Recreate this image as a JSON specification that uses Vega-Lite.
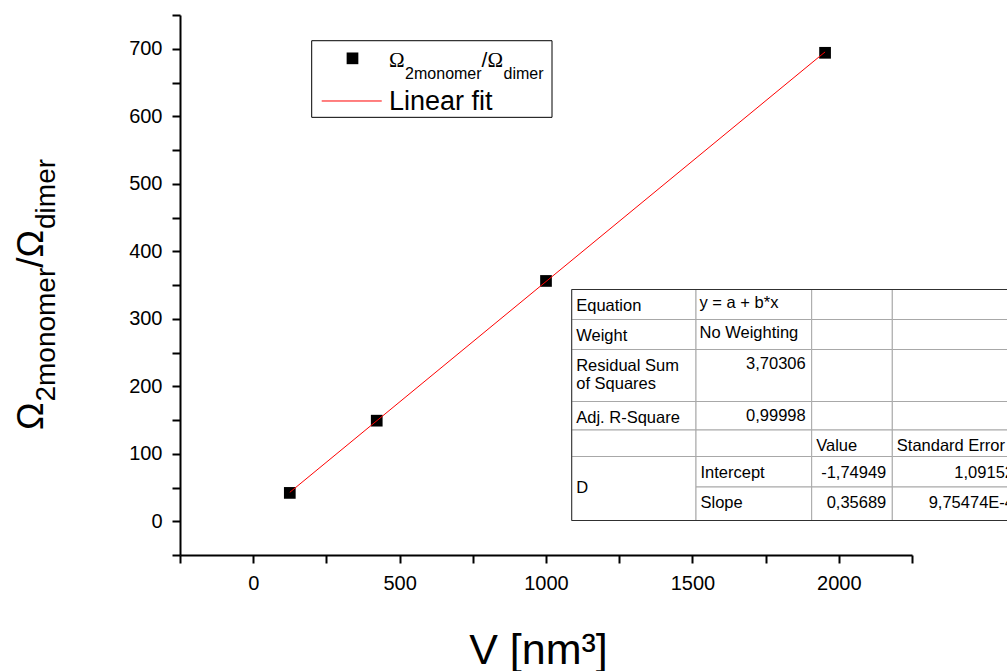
{
  "$schema": "https://vega.github.io/schema/vega-lite/v6.json",
  "width": 732,
  "height": 540,
  "autosize": {"type": "none"},
  "padding": {"left": 180, "top": 15, "right": 95, "bottom": 116},
  "background": "white",
  "config": {"view": {"stroke": null}, "font": "Liberation Sans"},
  "datasets": {
    "points": [
      {"V": 125, "ratio": 42},
      {"V": 421.9, "ratio": 149},
      {"V": 1000, "ratio": 356},
      {"V": 1953.1, "ratio": 694}
    ],
    "fit": [
      {"V": 125, "ratio": 42.86},
      {"V": 1953.1, "ratio": 695.3}
    ],
    "table": [
      {"r0": 0, "r1": 1, "c0": 0, "c1": 1, "text": "Equation", "kind": "label"},
      {"r0": 0, "r1": 1, "c0": 1, "c1": 2, "text": "y = a + b*x", "kind": "label"},
      {"r0": 0, "r1": 1, "c0": 2, "c1": 3, "text": "", "kind": "label"},
      {"r0": 0, "r1": 1, "c0": 3, "c1": 4, "text": "", "kind": "label"},
      {"r0": 1, "r1": 2, "c0": 0, "c1": 1, "text": "Weight", "kind": "label"},
      {"r0": 1, "r1": 2, "c0": 1, "c1": 2, "text": "No Weighting", "kind": "label"},
      {"r0": 1, "r1": 2, "c0": 2, "c1": 3, "text": "", "kind": "label"},
      {"r0": 1, "r1": 2, "c0": 3, "c1": 4, "text": "", "kind": "label"},
      {"r0": 2, "r1": 3, "c0": 0, "c1": 1, "text": "Residual Sum\nof Squares", "kind": "label"},
      {"r0": 2, "r1": 3, "c0": 1, "c1": 2, "text": "3,70306", "kind": "number"},
      {"r0": 2, "r1": 3, "c0": 2, "c1": 3, "text": "", "kind": "label"},
      {"r0": 2, "r1": 3, "c0": 3, "c1": 4, "text": "", "kind": "label"},
      {"r0": 3, "r1": 4, "c0": 0, "c1": 1, "text": "Adj. R-Square", "kind": "label"},
      {"r0": 3, "r1": 4, "c0": 1, "c1": 2, "text": "0,99998", "kind": "number"},
      {"r0": 3, "r1": 4, "c0": 2, "c1": 3, "text": "", "kind": "label"},
      {"r0": 3, "r1": 4, "c0": 3, "c1": 4, "text": "", "kind": "label"},
      {"r0": 4, "r1": 5, "c0": 0, "c1": 1, "text": "", "kind": "label"},
      {"r0": 4, "r1": 5, "c0": 1, "c1": 2, "text": "", "kind": "label"},
      {"r0": 4, "r1": 5, "c0": 2, "c1": 3, "text": "Value", "kind": "label"},
      {"r0": 4, "r1": 5, "c0": 3, "c1": 4, "text": "Standard Error", "kind": "label"},
      {"r0": 5, "r1": 7, "c0": 0, "c1": 1, "text": "D", "kind": "label"},
      {"r0": 5, "r1": 6, "c0": 1, "c1": 2, "text": "Intercept", "kind": "label"},
      {"r0": 5, "r1": 6, "c0": 2, "c1": 3, "text": "-1,74949", "kind": "number"},
      {"r0": 5, "r1": 6, "c0": 3, "c1": 4, "text": "1,09152", "kind": "number"},
      {"r0": 6, "r1": 7, "c0": 1, "c1": 2, "text": "Slope", "kind": "label"},
      {"r0": 6, "r1": 7, "c0": 2, "c1": 3, "text": "0,35689", "kind": "number"},
      {"r0": 6, "r1": 7, "c0": 3, "c1": 4, "text": "9,75474E-4", "kind": "number"}
    ]
  },
  "resolve": {"scale": {"x": "independent", "y": "independent"}},
  "layer": [
    {
      "layer": [
        {
          "data": {"values": [{}]},
          "mark": {"type": "rect", "fill": "white", "stroke": "black", "strokeWidth": 1},
          "encoding": {
            "x": {"datum": 199.8, "type": "quantitative"},
            "x2": {"datum": 1020.5},
            "y": {"datum": 711.9, "type": "quantitative"},
            "y2": {"datum": 598.4}
          }
        },
        {
          "data": {"name": "points"},
          "mark": {"type": "square", "size": 137, "color": "black", "opacity": 1},
          "encoding": {
            "x": {
              "field": "V", "type": "quantitative",
              "scale": {"domain": [-250, 2250], "nice": false, "zero": false},
              "axis": {
                "title": "V [nm³]",
                "values": [-250, 0, 250, 500, 750, 1000, 1250, 1500, 1750, 2000, 2250],
                "tickCount": 30,
                "labelExpr": "datum.value % 500 === 0 ? datum.label : ''",
                "format": "d",
                "grid": false,
                "domainColor": "black", "domainWidth": 2,
                "tickColor": "black", "tickWidth": 2, "tickSize": 8,
                "labelFont": "Liberation Sans", "labelFontSize": 20, "labelColor": "black",
                "labelPadding": 10, "labelOverlap": false, "labelFlush": false,
                "titleFont": "Liberation Sans", "titleFontSize": 43, "titleFontWeight": "normal",
                "titleColor": "black", "titleBaseline": "alphabetic", "titleAlign": "center",
                "titleX": 358, "titleY": 108,
                "encode": {"ticks": {"update": {"y2": {"signal": "datum.value % 500 === 0 ? 8 : 4"}}}}
              }
            },
            "y": {
              "field": "ratio", "type": "quantitative",
              "scale": {"domain": [-50, 750], "nice": false, "zero": false},
              "axis": {
                "title": null,
                "values": [-50, 0, 50, 100, 150, 200, 250, 300, 350, 400, 450, 500, 550, 600, 650, 700, 750],
                "tickCount": 30,
                "labelExpr": "datum.value % 100 === 0 ? datum.label : ''",
                "format": "d",
                "grid": false,
                "domainColor": "black", "domainWidth": 2,
                "tickColor": "black", "tickWidth": 2, "tickSize": 8,
                "labelFont": "Liberation Sans", "labelFontSize": 20, "labelColor": "black",
                "labelPadding": 10, "labelOverlap": false, "labelFlush": false,
                "encode": {"ticks": {"update": {"x2": {"signal": "datum.value % 100 === 0 ? -8 : -4"}}}}
              }
            }
          }
        },
        {
          "data": {"name": "fit"},
          "mark": {"type": "line", "color": "#ff0000", "strokeWidth": 1},
          "encoding": {
            "x": {"field": "V", "type": "quantitative"},
            "y": {"field": "ratio", "type": "quantitative"}
          }
        },
        {
          "data": {"values": [{}]},
          "mark": {"type": "square", "size": 137, "color": "black", "opacity": 1},
          "encoding": {
            "x": {"datum": 339.1, "type": "quantitative"},
            "y": {"datum": 685.8, "type": "quantitative"}
          }
        },
        {
          "data": {"values": [{}]},
          "mark": {"type": "rule", "color": "#ff0000", "strokeWidth": 1},
          "encoding": {
            "x": {"datum": 234, "type": "quantitative"},
            "x2": {"datum": 439},
            "y": {"datum": 622.6, "type": "quantitative"}
          }
        },
        {
          "data": {"values": [{}]},
          "mark": {"type": "text", "text": "Ω", "font": "Liberation Serif", "fontSize": 21, "align": "left", "baseline": "alphabetic", "color": "black"},
          "encoding": {"x": {"datum": 463.8, "type": "quantitative"}, "y": {"datum": 673, "type": "quantitative"}}
        },
        {
          "data": {"values": [{}]},
          "mark": {"type": "text", "text": "2monomer", "font": "Liberation Sans", "fontSize": 16, "align": "left", "baseline": "alphabetic", "color": "black"},
          "encoding": {"x": {"datum": 518.8, "type": "quantitative"}, "y": {"datum": 655.2, "type": "quantitative"}}
        },
        {
          "data": {"values": [{}]},
          "mark": {"type": "text", "text": "/", "font": "Liberation Sans", "fontSize": 21, "align": "left", "baseline": "alphabetic", "color": "black"},
          "encoding": {"x": {"datum": 780, "type": "quantitative"}, "y": {"datum": 673, "type": "quantitative"}}
        },
        {
          "data": {"values": [{}]},
          "mark": {"type": "text", "text": "Ω", "font": "Liberation Serif", "fontSize": 21, "align": "left", "baseline": "alphabetic", "color": "black"},
          "encoding": {"x": {"datum": 799.9, "type": "quantitative"}, "y": {"datum": 673, "type": "quantitative"}}
        },
        {
          "data": {"values": [{}]},
          "mark": {"type": "text", "text": "dimer", "font": "Liberation Sans", "fontSize": 16, "align": "left", "baseline": "alphabetic", "color": "black"},
          "encoding": {"x": {"datum": 854.8, "type": "quantitative"}, "y": {"datum": 655.2, "type": "quantitative"}}
        },
        {
          "data": {"values": [{}]},
          "mark": {"type": "text", "text": "Linear fit", "font": "Liberation Sans", "fontSize": 27, "align": "left", "baseline": "alphabetic", "color": "black"},
          "encoding": {"x": {"datum": 463.8, "type": "quantitative"}, "y": {"datum": 610, "type": "quantitative"}}
        },
        {
          "data": {"values": [{}]},
          "mark": {"type": "text", "text": "Ω", "font": "Liberation Sans", "fontSize": 37, "angle": 270, "align": "left", "baseline": "alphabetic", "color": "black"},
          "encoding": {"x": {"datum": -718, "type": "quantitative"}, "y": {"datum": 135.2, "type": "quantitative"}}
        },
        {
          "data": {"values": [{}]},
          "mark": {"type": "text", "text": "2monomer", "font": "Liberation Sans", "fontSize": 28, "angle": 270, "align": "left", "baseline": "alphabetic", "color": "black"},
          "encoding": {"x": {"datum": -677, "type": "quantitative"}, "y": {"datum": 177.3, "type": "quantitative"}}
        },
        {
          "data": {"values": [{}]},
          "mark": {"type": "text", "text": "/", "font": "Liberation Sans", "fontSize": 37, "angle": 270, "align": "left", "baseline": "alphabetic", "color": "black"},
          "encoding": {"x": {"datum": -718, "type": "quantitative"}, "y": {"datum": 375.5, "type": "quantitative"}}
        },
        {
          "data": {"values": [{}]},
          "mark": {"type": "text", "text": "Ω", "font": "Liberation Sans", "fontSize": 37, "angle": 270, "align": "left", "baseline": "alphabetic", "color": "black"},
          "encoding": {"x": {"datum": -718, "type": "quantitative"}, "y": {"datum": 390.7, "type": "quantitative"}}
        },
        {
          "data": {"values": [{}]},
          "mark": {"type": "text", "text": "dimer", "font": "Liberation Sans", "fontSize": 28, "angle": 270, "align": "left", "baseline": "alphabetic", "color": "black"},
          "encoding": {"x": {"datum": -677, "type": "quantitative"}, "y": {"datum": 433, "type": "quantitative"}}
        }
      ]
    },
    {
      "data": {"name": "table"},
      "layer": [
        {
          "mark": {"type": "rect", "fill": "white", "stroke": "#a8a8a8", "strokeWidth": 1},
          "encoding": {
            "x": {"field": "c0", "type": "quantitative", "axis": null,
                  "scale": {"domain": [0, 1, 2, 3, 4], "range": [391.7, 516, 631.7, 712.3, 840], "nice": false, "zero": false}},
            "x2": {"field": "c1"},
            "y": {"field": "r0", "type": "quantitative", "axis": null,
                  "scale": {"domain": [0, 1, 2, 3, 4, 5, 6, 7], "range": [274.5, 304.5, 334.5, 386.5, 415, 441.5, 472, 505.5], "nice": false, "zero": false}},
            "y2": {"field": "r1"}
          }
        },
        {
          "data": {"values": [{}]},
          "mark": {"type": "rect", "filled": false, "stroke": "#303030", "strokeWidth": 1},
          "encoding": {
            "x": {"datum": 0, "type": "quantitative"},
            "x2": {"datum": 4},
            "y": {"datum": 0, "type": "quantitative"},
            "y2": {"datum": 7}
          }
        },
        {
          "transform": [{"filter": "datum.kind === 'label' && datum.r1 - datum.r0 === 1 && !(datum.c0 === 1 && datum.r0 < 4)"}],
          "mark": {"type": "text", "align": "left", "baseline": "top", "dx": 4.5, "dy": 8, "font": "Liberation Sans", "fontSize": 16.5, "color": "black", "lineBreak": "\n", "lineHeight": 18},
          "encoding": {
            "x": {"field": "c0", "type": "quantitative"},
            "y": {"field": "r0", "type": "quantitative"},
            "text": {"field": "text"}
          }
        },
        {
          "transform": [{"filter": "datum.kind === 'label' && datum.c0 === 1 && datum.r0 < 4"}],
          "mark": {"type": "text", "align": "left", "baseline": "top", "dx": 3.5, "dy": 5.5, "font": "Liberation Sans", "fontSize": 16.5, "color": "black"},
          "encoding": {
            "x": {"field": "c0", "type": "quantitative"},
            "y": {"field": "r0", "type": "quantitative"},
            "text": {"field": "text"}
          }
        },
        {
          "transform": [{"filter": "datum.kind === 'number' && datum.r0 < 4"}],
          "mark": {"type": "text", "align": "right", "baseline": "top", "dx": -6, "dy": 6.5, "font": "Liberation Sans", "fontSize": 16.5, "color": "black"},
          "encoding": {
            "x": {"field": "c1", "type": "quantitative"},
            "y": {"field": "r0", "type": "quantitative"},
            "text": {"field": "text"}
          }
        },
        {
          "transform": [{"filter": "datum.kind === 'number' && datum.r0 >= 4"}],
          "mark": {"type": "text", "align": "right", "baseline": "top", "dx": -6, "dy": 8, "font": "Liberation Sans", "fontSize": 16.5, "color": "black"},
          "encoding": {
            "x": {"field": "c1", "type": "quantitative"},
            "y": {"field": "r0", "type": "quantitative"},
            "text": {"field": "text"}
          }
        },
        {
          "transform": [{"filter": "datum.r1 - datum.r0 === 2"}],
          "mark": {"type": "text", "align": "left", "baseline": "top", "dx": 4.5, "dy": 23.5, "font": "Liberation Sans", "fontSize": 16.5, "color": "black"},
          "encoding": {
            "x": {"field": "c0", "type": "quantitative"},
            "y": {"field": "r0", "type": "quantitative"},
            "text": {"field": "text"}
          }
        }
      ]
    }
  ]
}
